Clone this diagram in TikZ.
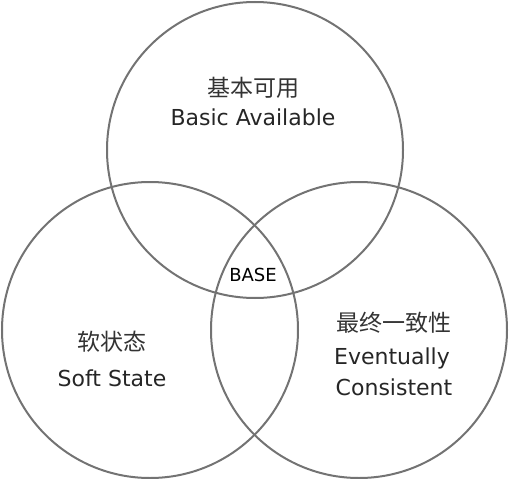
\documentclass[tikz,border=0pt]{standalone}
\usepackage{fontspec}
\setmainfont{DejaVu Sans}
\newfontfamily\cjk{Noto Sans CJK SC}
\usepackage{tikz}

\begin{document}
\begin{tikzpicture}[x=1pt, y=-1pt,
	ring/.style={draw=black!55, line width=2pt, circle, minimum size=296pt, inner sep=0pt},
	zh/.style={font=\cjk\fontsize{23}{26}\selectfont, text=black!80},
	en/.style={font=\fontsize{22}{26}\selectfont, text=black!85}]
	\useasboundingbox (0,0) rectangle (509,479);
	% the three sets
	\node[ring] (ba) at (255,150) {};
	\node[ring] (ss) at (150,330) {};
	\node[ring] (ec) at (359,330) {};
	% labels
	\node[zh] (bazh) at (253,88) {基本可用};
	\node[en] (baen) at (253,117) {Basic Available};
	\node[zh] (sszh) at (112,342) {软状态};
	\node[en] (ssen) at (112,378) {Soft State};
	\node[zh] (eczh) at (394,323) {最终一致性};
	\node[en] (ecen) at (392,358) {Eventually};
	\node[en] (ecen2) at (394,387) {Consistent};
	\node[font=\fontsize{18}{20}\selectfont] (base) at (253,275) {BASE};
\end{tikzpicture}
\end{document}
